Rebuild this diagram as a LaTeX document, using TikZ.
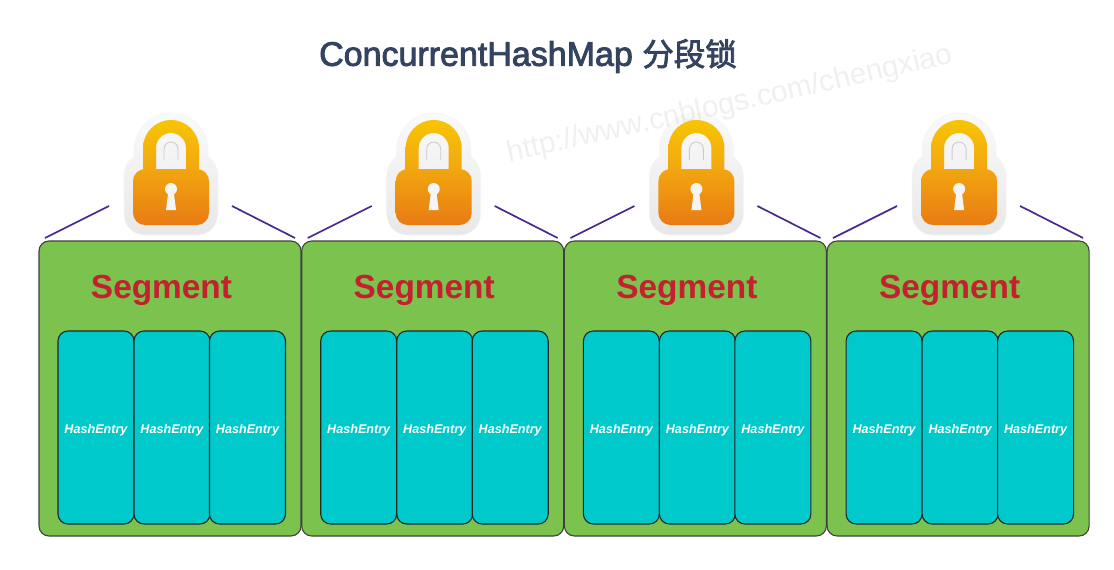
\documentclass[tikz,border=0pt]{standalone}
\usepackage{fontspec}
\setmainfont{Liberation Sans}
\newfontfamily\cjk[FakeBold=2.5]{Noto Sans CJK SC}
\newfontfamily\titlefont[FakeBold=2.5]{Liberation Sans}
\definecolor{segGreen}{HTML}{7CC24E}
\definecolor{entryCyan}{HTML}{00C9CB}
\definecolor{segRed}{HTML}{C4202F}
\definecolor{titleBlue}{HTML}{34435F}
\definecolor{wirePurple}{HTML}{4B2A8F}
\definecolor{lockTop}{HTML}{F7C505}
\definecolor{lockMid}{HTML}{F2A60F}
\definecolor{lockLow}{HTML}{E87B14}
\tikzset{
    segbox/.style={draw=black!75, line width=1.1pt, fill=segGreen, rounded corners=10pt,
        minimum width=262pt, minimum height=295pt, inner sep=0pt},
    entrybox/.style={draw=black!85, line width=1.1pt, fill=entryCyan, rounded corners=10pt,
        minimum width=76pt, minimum height=193pt, inner sep=0pt, text height=12pt, text depth=0pt,
        font=\fontsize{12.6}{14}\selectfont\bfseries\itshape, text=white},
    seglabel/.style={font=\fontsize{33.4}{36}\selectfont\bfseries, text=segRed, inner sep=0pt},
    wire/.style={draw=wirePurple, line width=1.7pt},
}
\begin{document}
\begin{tikzpicture}[x=1pt,y=-1pt]
    \useasboundingbox (0,0) rectangle (1114,570);
    \fill[white] (0,0) rectangle (1114,570);

    \node[text=titleBlue, inner sep=0pt] (title) at (528,56)
        {\fontsize{34}{38}\selectfont\titlefont ConcurrentHashMap \cjk\fontsize{31.5}{38}\selectfont 分段锁};

    % One segment with its lock, repeated four times
    \foreach \i in {1,2,3,4} {
        \pgfmathsetmacro{\sx}{(\i-1)*262.7}
        \begin{scope}[shift={(\sx,0)}]
            \node[segbox] (seg\i) at (170,388.5) {};
            \node[seglabel] (name\i) at (161.5,290) {Segment};
            \node[entrybox] (entry\i a) at (96,427.5) {HashEntry};
            \node[entrybox] (entry\i b) at (172,427.5) {HashEntry};
            \node[entrybox] (entry\i c) at (247.5,427.5) {HashEntry};

            % Wires from the segment up towards the lock
            \coordinate (wireA\i) at (45,238);
            \coordinate (wireB\i) at (109,206);
            \coordinate (wireC\i) at (232,206);
            \coordinate (wireD\i) at (295,238);
            \draw[wire] (wireA\i) -- (wireB\i);
            \draw[wire] (wireC\i) -- (wireD\i);

            % Pale halo round the lock
            \draw[draw=black!4, line width=0.6pt, top color=black!2, bottom color=black!9]
                (134,150) arc[start angle=180, end angle=360, radius=37]
                -- (208,157) .. controls (214,160) and (218,168) .. (218,178)
                -- (218,213) .. controls (218,227) and (208,235) .. (197,235)
                -- (145,235) .. controls (134,235) and (124,227) .. (124,213)
                -- (124,178) .. controls (124,168) and (128,160) .. (134,157) -- cycle;

            % Shackle
            \shade[top color=lockTop, bottom color=lockMid]
                (143,170) -- (143,148) arc[start angle=180, end angle=360, radius=28]
                -- (199,170) -- (186,170) -- (186,148)
                arc[start angle=360, end angle=180, radius=15] -- (156,170) -- cycle;
            \draw[black!20, line width=0.9pt]
                (164,160) -- (164,149) arc[start angle=180, end angle=360, radius=7]
                -- (178,160);

            % Lock body and keyhole
            \shade[top color=lockMid, bottom color=lockLow, rounded corners=12pt]
                (133,169) rectangle (209,225);
            \fill[black!4] (171,189) circle (6pt);
            \fill[black!4] (168.5,190) -- (173.5,190) -- (176,210) -- (166,210) -- cycle;
        \end{scope}
    }

    % Watermark
    \node[rotate=12.6, text=black, opacity=0.06, inner sep=0pt] (mark) at (730,105)
        {\fontsize{29.7}{32}\selectfont http://www.cnblogs.com/chengxiao};
\end{tikzpicture}
\end{document}
